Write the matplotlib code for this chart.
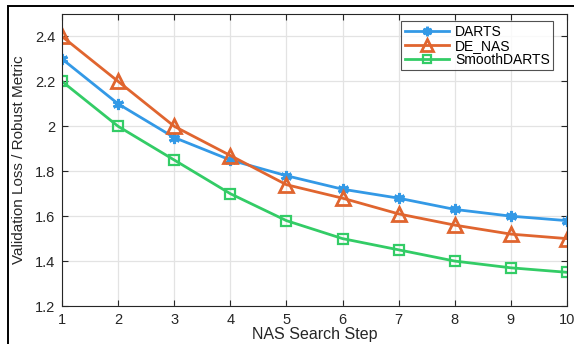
import matplotlib
matplotlib.use("Agg")
import matplotlib.pyplot as plt
from matplotlib.patches import Rectangle

plt.rcParams['font.family'] = ['Liberation Sans', 'DejaVu Sans']

steps = [1, 2, 3, 4, 5, 6, 7, 8, 9, 10]
darts = [2.30, 2.10, 1.95, 1.85, 1.78, 1.72, 1.68, 1.63, 1.60, 1.58]
de_nas = [2.40, 2.20, 2.00, 1.87, 1.74, 1.68, 1.61, 1.56, 1.52, 1.50]
smooth_darts = [2.20, 2.00, 1.85, 1.70, 1.58, 1.50, 1.45, 1.40, 1.37, 1.35]
yticks = [1.2, 1.4, 1.6, 1.8, 2.0, 2.2, 2.4]
ytick_labels = ['1.2', '1.4', '1.6', '1.8', '2', '2.2', '2.4']

c_blue = '#3399e6'
c_orange = '#e0652f'
c_green = '#33cc66'

fig = plt.figure(figsize=(5.74, 3.44), dpi=100)
ax = fig.add_axes([62/574, 1-306/344, (567-62)/574, (306-14)/344])

ax.plot(steps, darts, color=c_blue, lw=2, marker=(6, 2, 0), ms=8, mew=2.2,
        label='DARTS')
ax.plot(steps, de_nas, color=c_orange, lw=2, marker='^', ms=9.5, mew=2,
        mfc='none', label='DE_NAS')
ax.plot(steps, smooth_darts, color=c_green, lw=2, marker='s', ms=7, mew=1.6,
        mfc='none', label='SmoothDARTS')

ax.set_xlim(1, 10)
ax.set_ylim(1.2, 2.5)
ax.set_xticks(steps)
ax.set_yticks(yticks)
ax.set_yticklabels(ytick_labels)
ax.grid(True, color='#e3e3e3', lw=0.9)
ax.set_axisbelow(True)
ax.tick_params(direction='in', top=True, right=True, length=4, width=0.8,
               colors='#262626', labelsize=10.5, pad=5)
for s in ax.spines.values():
    s.set_color('#262626')
    s.set_linewidth(0.8)

ax.set_xlabel('NAS Search Step', fontsize=11.5, color='#262626', labelpad=0)
ax.set_ylabel('Validation Loss / Robust Metric', fontsize=11, color='#262626',
              labelpad=6)

leg = ax.legend(loc='upper right', bbox_to_anchor=(0.978, 0.984), fontsize=10,
                frameon=True, fancybox=False, edgecolor='#262626',
                handlelength=3.2, borderpad=0.25, labelspacing=0.0,
                handletextpad=0.4, borderaxespad=0.2, markerscale=0.85)
leg.get_frame().set_linewidth(0.8)

fig.patches.append(Rectangle((8/574, -0.1), 1.2, 1.1 - 6/344,
                             transform=fig.transFigure, fill=False,
                             edgecolor='black', lw=1.4))

fig.savefig('out.png', dpi=100)
